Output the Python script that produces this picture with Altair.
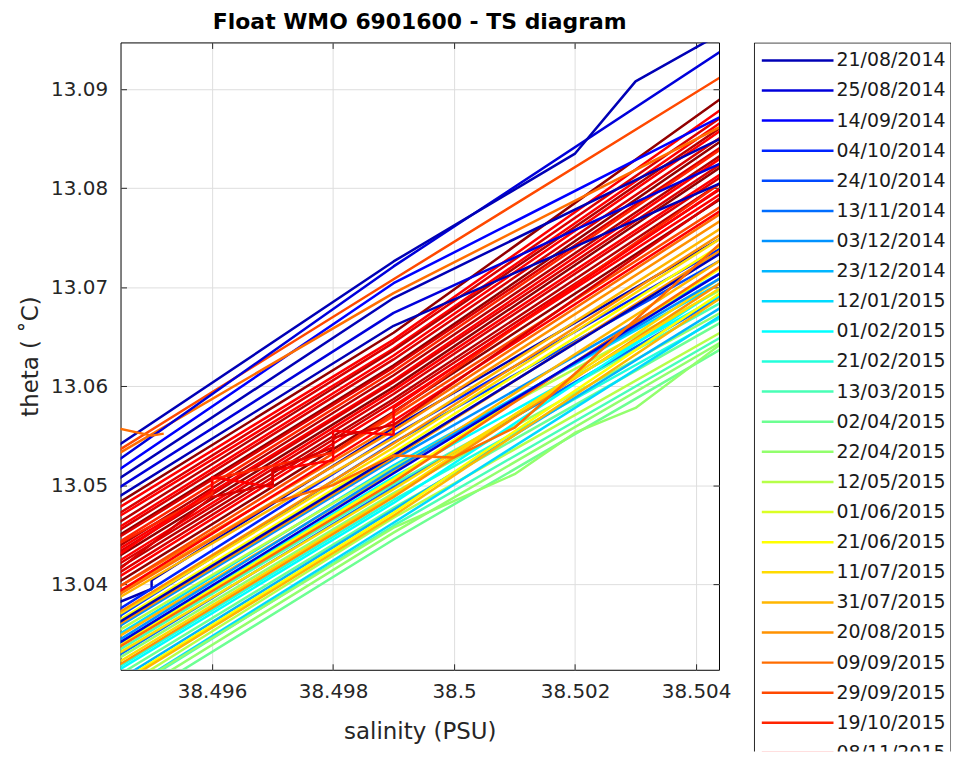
import altair as alt
import pandas as pd

TITLE = "Float WMO 6901600 - TS diagram"
X_TITLE = "salinity (PSU)"
Y_TITLE = "theta ( \u02daC)"
X_TICKS = [38.496, 38.498, 38.500, 38.502, 38.504]
Y_TICKS = [13.04, 13.05, 13.06, 13.07, 13.08, 13.09]
X_DOMAIN = [38.494486, 38.504379]
Y_DOMAIN = [13.03134, 13.09473]

DATES = ["21/08/2014", "25/08/2014", "14/09/2014", "04/10/2014", "24/10/2014",
         "13/11/2014", "03/12/2014", "23/12/2014", "12/01/2015", "01/02/2015",
         "21/02/2015", "13/03/2015", "02/04/2015", "22/04/2015", "12/05/2015",
         "01/06/2015", "21/06/2015", "11/07/2015", "31/07/2015", "20/08/2015",
         "09/09/2015", "29/09/2015", "19/10/2015", "08/11/2015", "28/11/2015",
         "18/12/2015", "07/01/2016"]
COLORS = ["#0000B6", "#0000DB", "#0000FF", "#0024FF", "#0049FF", "#006DFF", "#0092FF",
          "#00B6FF", "#00DBFF", "#00FFFF", "#24FFDB", "#49FFB6", "#6DFF92", "#92FF6D",
          "#B6FF49", "#DBFF24", "#FFFF00", "#FFDB00", "#FFB600", "#FF9200", "#FF6D00",
          "#FF4900", "#FF2400", "#FF0000", "#DB0000", "#B60000", "#920000"]

# salinity positions shared by the straight profiles
S3 = [38.4944, 38.4990, 38.5044]

# lower band (blue / cyan / green / yellow / orange profiles)
LOWER_THETA = [
    [13.0372, 13.0550, 13.0739], [13.0395, 13.0560, 13.0774], [13.0389, 13.0555, 13.0767],
    [13.0384, 13.0548, 13.0759], [13.0365, 13.0543, 13.0727], [13.0367, 13.0538, 13.0749],
    [13.0361, 13.0533, 13.0742], [13.0355, 13.0526, 13.0714], [13.0357, 13.0528, 13.0737],
    [13.0347, 13.0520, 13.0704], [13.0351, 13.0518, 13.0697], [13.0345, 13.0514, 13.0727],
    [13.0338, 13.0508, 13.0691], [13.0336, 13.0506, 13.0719], [13.0331, 13.0501, 13.0684],
    [13.0334, 13.0503, 13.0721], [13.0326, 13.0498, 13.0689], [13.0323, 13.0492, 13.0674],
    [13.0319, 13.0490, 13.0709], [13.0314, 13.0485, 13.0669], [13.0316, 13.0488, 13.0704],
    [13.0306, 13.0477, 13.0664], [13.0301, 13.0475, 13.0679], [13.0298, 13.0472, 13.0694],
    [13.0291, 13.0467, 13.0654], [13.0296, 13.0469, 13.0689], [13.0284, 13.0459, 13.0649],
    [13.0278, 13.0452, 13.0644], [13.0271, 13.0445, 13.0637], [13.0311, 13.0482, 13.0699],
    [13.0341, 13.0516, 13.0709], [13.0328, 13.0496, 13.0699], [13.0369, 13.0542, 13.0753],
    [13.0286, 13.0462, 13.0671], [13.0359, 13.0530, 13.0734], [13.0338, 13.0512, 13.0714],
]
LOWER_COLOR = [3, 20, 19, 18, 4, 17, 16, 6, 19, 8, 14, 18, 9, 16, 11, 20, 5, 13,
               17, 10, 19, 12, 7, 16, 14, 18, 11, 13, 12, 9, 6, 17, 19, 8, 0, 1]

# red band (autumn 2015 profiles)
RED_THETA = [
    [13.0480, 13.0654, 13.0890], [13.0475, 13.0647, 13.0879], [13.0469, 13.0644, 13.0871],
    [13.0466, 13.0638, 13.0866], [13.0460, 13.0636, 13.0861], [13.0455, 13.0631, 13.0858],
    [13.0452, 13.0627, 13.0851], [13.0447, 13.0621, 13.0847], [13.0445, 13.0619, 13.0841],
    [13.0440, 13.0615, 13.0839], [13.0436, 13.0611, 13.0833], [13.0433, 13.0606, 13.0830],
    [13.0430, 13.0604, 13.0824], [13.0426, 13.0599, 13.0821], [13.0421, 13.0596, 13.0814],
    [13.0418, 13.0592, 13.0811], [13.0414, 13.0587, 13.0805], [13.0409, 13.0584, 13.0799],
    [13.0405, 13.0580, 13.0794], [13.0400, 13.0574, 13.0789], [13.0395, 13.0570, 13.0781],
    [13.0390, 13.0565, 13.0777],
]
RED_COLOR = [26, 23, 24, 23, 25, 23, 24, 26, 24, 22, 25, 23, 24, 26, 23, 24, 25, 24,
             23, 26, 21, 23]

# top group (first profiles, navy, and two orange ones)
TOP_THETA = [
    [13.0486, 13.0661, 13.0805], [13.0495, 13.0674, 13.0825], [13.0504, 13.0689, 13.0850],
    [13.0513, 13.0704, 13.0872], [13.0530, 13.0694, 13.0862], [13.0533, 13.0708, 13.0912],
    [13.0523, 13.0721, 13.0938],
]
TOP_COLOR = [0, 1, 0, 2, 20, 21, 1]

# profiles with kinks / steps
L1_S = [38.4944, 38.4950, 38.4950, 38.4990, 38.5044]
L1_T = [13.0380, 13.0395, 13.0404, 13.0558, 13.0749]
LG_S = [38.4944, 38.4990, 38.5010, 38.5020, 38.5030, 38.5044]
LG_T = [13.0286, 13.0457, 13.0511, 13.0553, 13.0578, 13.0642]
OZ_S = [38.4944, 38.4970, 38.4980, 38.4990, 38.5000, 38.5010, 38.5044]
OZ_T = [13.0387, 13.0482, 13.0500, 13.0530, 13.0528, 13.0558, 13.0744]
Z1_S = [38.4944, 38.4960, 38.4960, 38.4970, 38.4970, 38.4980, 38.4980, 38.4990, 38.4990, 38.5044]
Z1_T = [13.0427, 13.0495, 13.0508, 13.0498, 13.0515, 13.0525, 13.0555, 13.0551, 13.0578, 13.0800]
Z2_S = [38.4944, 38.4960, 38.4970, 38.4970, 38.4980, 38.4980, 38.4990, 38.5044]
Z2_T = [13.0412, 13.0488, 13.0501, 13.0515, 13.0538, 13.0548, 13.0561, 13.0790]
Z3_S = [38.4944, 38.4950, 38.4960, 38.4960, 38.4980, 38.4990, 38.5044]
Z3_T = [13.0439, 13.0459, 13.0491, 13.0506, 13.0533, 13.0573, 13.0805]
A_S = [38.4944, 38.4990, 38.5020, 38.5030, 38.5044]
A_T = [13.0538, 13.0726, 13.0835, 13.0908, 13.0956]
STUB_S = [38.4944, 38.4950, 38.4952]
STUB_T = [13.0558, 13.0550, 13.0552]

rows = []


def add(name, sal, theta, cidx):
    for k, (s, t) in enumerate(zip(sal, theta)):
        rows.append({"line": name, "k": k, "s": s, "t": t, "col": COLORS[cidx]})


add("L1", L1_S, L1_T, 0)
for i, (th, c) in enumerate(zip(LOWER_THETA, LOWER_COLOR)):
    add(f"low{i}", S3, th, c)
add("LG", LG_S, LG_T, 13)
add("OZ", OZ_S, OZ_T, 20)
for i, (th, c) in enumerate(zip(RED_THETA, RED_COLOR)):
    add(f"red{i}", S3, th, c)
add("Z3", Z3_S, Z3_T, 22)
add("Z1", Z1_S, Z1_T, 23)
add("Z2", Z2_S, Z2_T, 24)
for i, (th, c) in enumerate(zip(TOP_THETA, TOP_COLOR)):
    add(f"top{i}", S3, th, c)
add("A", A_S, A_T, 0)
add("STUB", STUB_S, STUB_T, 20)

df = pd.DataFrame(rows)
corners = pd.DataFrame({"s": X_DOMAIN, "t": Y_DOMAIN})

FONT = "DejaVu Sans"
TXT = "#262626"
GRID = "#dedede"
W, H = 601, 630

x_scale = alt.Scale(domain=X_DOMAIN, nice=False, zero=False)
y_scale = alt.Scale(domain=Y_DOMAIN, nice=False, zero=False)

x_axis = alt.Axis(values=X_TICKS, format=".6~g", title=X_TITLE, grid=True, gridColor=GRID,
                  gridWidth=1, domain=False, ticks=False, labelPadding=12, labelFont=FONT,
                  labelFontSize=20, labelColor=TXT, labelFlush=False, titleFont=FONT,
                  titleFontSize=23, titleFontWeight="normal", titleColor=TXT, titlePadding=19)
y_axis = alt.Axis(values=Y_TICKS, format=".2f", title=Y_TITLE, grid=True, gridColor=GRID,
                  gridWidth=1, domain=False, ticks=False, labelPadding=13, labelFont=FONT,
                  labelFontSize=20, labelColor=TXT, titleFont=FONT, titleFontSize=23,
                  titleFontWeight="normal", titleColor=TXT, titlePadding=8)


def tick_axis(values, orient, offset):
    return alt.Axis(values=values, orient=orient, offset=offset, labels=False, grid=False,
                    domain=False, ticks=True, tickSize=6, tickWidth=1, tickColor=TXT,
                    title=None)


lines = alt.Chart(df).mark_line(strokeWidth=2.5, clip=True, strokeJoin="round").encode(
    x=alt.X("s:Q", scale=x_scale, axis=x_axis),
    y=alt.Y("t:Q", scale=y_scale, axis=y_axis),
    detail="line:N",
    order="k:Q",
    color=alt.Color("col:N", scale=None),
)
ticks_a = alt.Chart(corners).mark_point(opacity=0).encode(
    x=alt.X("s:Q", scale=x_scale, axis=tick_axis(X_TICKS, "top", -H)),
    y=alt.Y("t:Q", scale=y_scale, axis=tick_axis(Y_TICKS, "right", -W)),
)
ticks_b = alt.Chart(corners).mark_point(opacity=0).encode(
    x=alt.X("s:Q", scale=x_scale, axis=tick_axis(X_TICKS, "bottom", -H)),
    y=alt.Y("t:Q", scale=y_scale, axis=tick_axis(Y_TICKS, "left", -W)),
)

main = alt.layer(lines, ticks_a, ticks_b).resolve_axis(
    x="independent", y="independent"
).properties(
    width=W, height=H,
    title=alt.TitleParams(TITLE, font=FONT, fontSize=22, fontWeight="bold", color="#000000",
                          anchor="middle", frame="group", offset=6),
    view=alt.ViewConfig(stroke="#000000", strokeWidth=1),
)

leg_df = pd.DataFrame({"k": list(range(len(DATES))), "date": DATES,
                       "col": COLORS[:len(DATES)]})
LEG_H = 712
ly = alt.Y("k:Q", scale=alt.Scale(domain=[-0.596, 22.949], reverse=True, nice=False,
                                  zero=False), axis=None)
leg_base = alt.Chart(leg_df)
leg_rules = leg_base.mark_rule(strokeWidth=2.5, clip=True).encode(
    y=ly, x=alt.value(8), x2=alt.value(80), color=alt.Color("col:N", scale=None))
leg_text = leg_base.mark_text(align="left", baseline="middle", font=FONT, fontSize=19,
                              color="#1a1a1a", clip=True).encode(
    y=ly, x=alt.value(83), text="date:N")
leg_box = alt.Chart(pd.DataFrame({"k": [0]})).mark_rect(
    fill="#ffffff", fillOpacity=0, stroke="#000000", strokeWidth=1, clip=True).encode(
    x=alt.value(0.5), x2=alt.value(198), y=alt.value(0.5), y2=alt.value(800))
legend = alt.layer(leg_box, leg_rules, leg_text).properties(
    width=198, height=LEG_H, view=alt.ViewConfig(stroke="transparent"))

chart = alt.hconcat(main, legend, spacing=21).properties(
    padding={"left": 11, "top": 0, "right": 0, "bottom": 0},
    background="#ffffff",
).configure(font=FONT)

chart.save("out.html", embed_options={"renderer": "svg", "actions": False})
